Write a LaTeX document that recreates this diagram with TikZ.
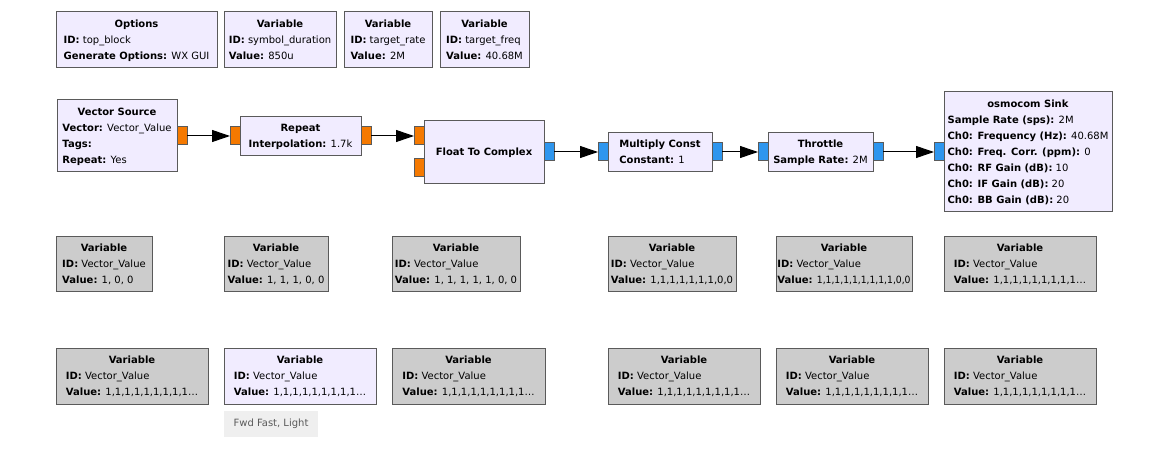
\documentclass[tikz,border=0pt]{standalone}
\usepackage{fontspec}
\setmainfont{DejaVu Sans}
\usetikzlibrary{arrows.meta}
\definecolor{blkfill}{HTML}{F1ECFF}
\definecolor{offfill}{HTML}{CCCCCC}
\definecolor{blkline}{HTML}{5A5A5A}
\definecolor{fltport}{HTML}{F57900}
\definecolor{cpxport}{HTML}{2E96EE}
\definecolor{tipfill}{HTML}{EFEFEF}
\definecolor{tiptext}{HTML}{5A5A5A}
\newcommand\grcfont{\fontsize{7.5}{12}\selectfont}
\newcommand\grcblock[2]{\begin{tabular}{@{}l@{}}\multicolumn{1}{@{}c@{}}{\textbf{#1}}\\#2\end{tabular}}
\newcommand\grckv[2]{\textbf{#1:} #2}
\begin{document}
\begin{tikzpicture}[x=0.75pt,y=-0.75pt,
  frame/.style args={#1/#2/#3/#4}{at={({(#1+#3)/2},{(#2+#4)/2})}, anchor=center,
     minimum width={(#3-#1)*0.75pt}, minimum height={(#4-#2)*0.75pt}},
  blk/.style={draw=blkline, line width=0.75pt, fill=blkfill, inner sep=0pt, outer sep=0pt, font=\grcfont, text=black},
  offblk/.style={blk, fill=offfill},
  port/.style={draw=blkline, line width=0.75pt, inner sep=0pt, outer sep=0pt},
  fport/.style={port, fill=fltport},
  cport/.style={port, fill=cpxport},
  conn/.style={draw=black, line width=0.75pt, -{Triangle[length=13.5pt,width=9pt]}},
  tip/.style={fill=tipfill, inner sep=0pt, font=\grcfont, text=tiptext}]
\fill[white] (0,0) rectangle (1172,474);
\useasboundingbox (0,0) rectangle (1172,474);
% top row
\node[blk, frame=56/12/217/68] (opt) {\grcblock{Options}{\grckv{ID}{top\_block}\\\grckv{Generate Options}{WX GUI}}};
\node[blk, frame=224/12/336/68] (vsym) {\grcblock{Variable}{\grckv{ID}{symbol\_duration}\\\grckv{Value}{850u}}};
\node[blk, frame=344/12/432/68] (vrate) {\grcblock{Variable}{\grckv{ID}{target\_rate}\\\grckv{Value}{2M}}};
\node[blk, frame=440/12/529/68] (vfreq) {\grcblock{Variable}{\grckv{ID}{target\_freq}\\\grckv{Value}{40.68M}}};
% flow graph
\node[blk, frame=57/100/177/172] (vsrc) {\grcblock{Vector Source}{\grckv{Vector}{Vector\_Value}\\\textbf{Tags:}\\\grckv{Repeat}{Yes}}};
\node[fport, frame=177/127/187/145] (vsrco) {};
\node[blk, frame=240/117/361/156] (rep) {\grcblock{Repeat}{\grckv{Interpolation}{1.7k}}};
\node[fport, frame=230/127/240/145] (repi) {};
\node[fport, frame=361/127/371/145] (repo) {};
\node[blk, frame=424/121/544/184] (f2c) {\textbf{Float To Complex}};
\node[fport, frame=414/127/424/145] (f2ci) {};
\node[fport, frame=414/159/424/177] (f2cq) {};
\node[cport, frame=544/143/554/161] (f2co) {};
\node[blk, frame=608/133/712/172] (mc) {\grcblock{Multiply Const}{\grckv{Constant}{1}}};
\node[cport, frame=598/143/608/161] (mci) {};
\node[cport, frame=712/143/722/161] (mco) {};
\node[blk, frame=768/133/873/172] (thr) {\grcblock{Throttle}{\grckv{Sample Rate}{2M}}};
\node[cport, frame=758/143/768/161] (thri) {};
\node[cport, frame=873/143/883/161] (thro) {};
\node[blk, frame=944/92/1112/212] (osmo) {\grcblock{osmocom Sink}{\grckv{Sample Rate (sps)}{2M}\\\grckv{Ch0: Frequency (Hz)}{40.68M}\\\grckv{Ch0: Freq. Corr. (ppm)}{0}\\\grckv{Ch0: RF Gain (dB)}{10}\\\grckv{Ch0: IF Gain (dB)}{20}\\\grckv{Ch0: BB Gain (dB)}{20}}};
\node[cport, frame=934/143/944/161] (osmoi) {};
\draw[conn] (vsrco.east) -- (repi.west);
\draw[conn] (repo.east) -- (f2ci.west);
\draw[conn] (f2co.east) -- (mci.west);
\draw[conn] (mco.east) -- (thri.west);
\draw[conn] (thro.east) -- (osmoi.west);
% variable rows
\node[offblk, frame=56/237/152/292] (a1) {\grcblock{Variable}{\grckv{ID}{Vector\_Value}\\\grckv{Value}{1, 0, 0}}};
\node[offblk, frame=224/237/328/292] (a2) {\grcblock{Variable}{\grckv{ID}{Vector\_Value}\\\grckv{Value}{1, 1, 1, 0, 0}}};
\node[offblk, frame=392/237/520/292] (a3) {\grcblock{Variable}{\grckv{ID}{Vector\_Value}\\\grckv{Value}{1, 1, 1, 1, 1, 0, 0}}};
\node[offblk, frame=608/237/736/292] (a4) {\grcblock{Variable}{\grckv{ID}{Vector\_Value}\\\grckv{Value}{1,1,1,1,1,1,1,0,0}}};
\node[offblk, frame=776/237/912/292] (a5) {\grcblock{Variable}{\grckv{ID}{Vector\_Value}\\\grckv{Value}{\scalebox{0.92}[1]{1,1,1,1,1,1,1,1,1,0,0}}}};
\node[offblk, frame=944/237/1096/292] (a6) {\grcblock{Variable}{\grckv{ID}{Vector\_Value}\\\grckv{Value}{1,1,1,1,1,1,1,1,1…}}};
\node[offblk, frame=56/348/208/404] (b1) {\grcblock{Variable}{\grckv{ID}{Vector\_Value}\\\grckv{Value}{1,1,1,1,1,1,1,1,1…}}};
\node[blk, frame=224/348/376/404] (b2) {\grcblock{Variable}{\grckv{ID}{Vector\_Value}\\\grckv{Value}{1,1,1,1,1,1,1,1,1…}}};
\node[offblk, frame=392/348/545/404] (b3) {\grcblock{Variable}{\grckv{ID}{Vector\_Value}\\\grckv{Value}{1,1,1,1,1,1,1,1,1…}}};
\node[offblk, frame=608/348/760/404] (b4) {\grcblock{Variable}{\grckv{ID}{Vector\_Value}\\\grckv{Value}{1,1,1,1,1,1,1,1,1…}}};
\node[offblk, frame=776/348/928/404] (b5) {\grcblock{Variable}{\grckv{ID}{Vector\_Value}\\\grckv{Value}{1,1,1,1,1,1,1,1,1…}}};
\node[offblk, frame=944/348/1096/404] (b6) {\grcblock{Variable}{\grckv{ID}{Vector\_Value}\\\grckv{Value}{1,1,1,1,1,1,1,1,1…}}};
\node[tip, frame=224/411/318/437] (tt) {Fwd Fast, Light};
\end{tikzpicture}
\end{document}
